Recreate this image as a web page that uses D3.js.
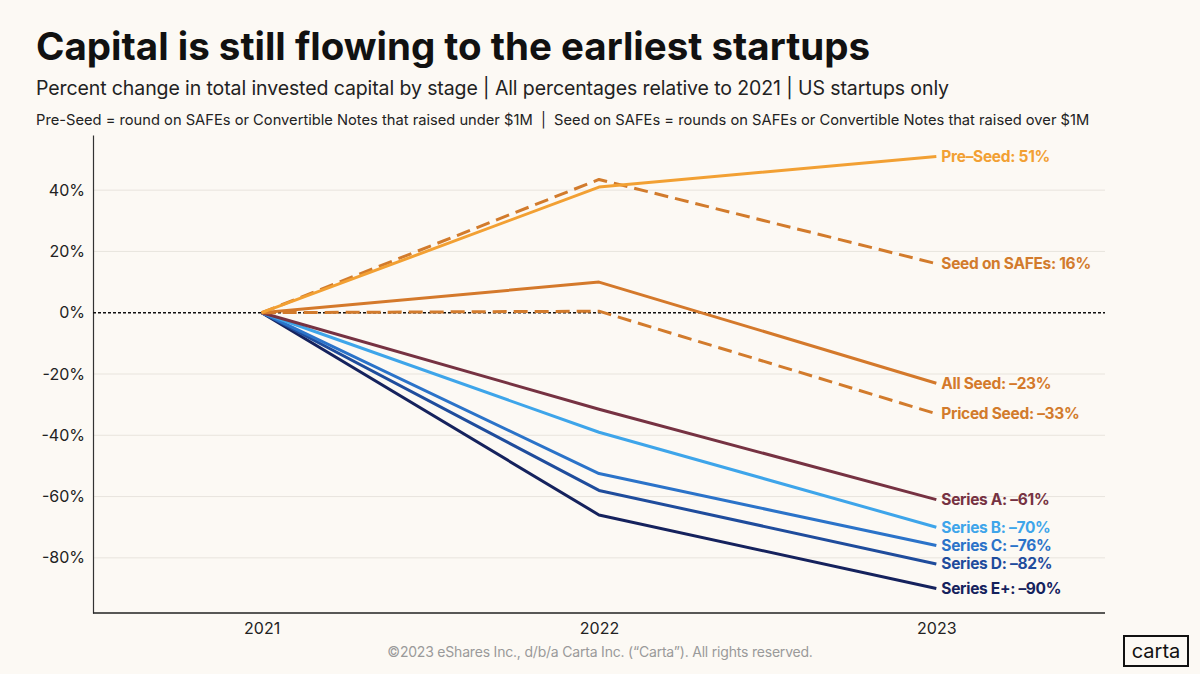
<!DOCTYPE html>
<html>
<head>
<meta charset="utf-8">
<script src="https://cdn.jsdelivr.net/npm/d3@7"></script>
<style>
  body { margin: 0; background: #fcf9f4; }
  svg { display: block; font-family: "Inter", "Lato", sans-serif; }
</style>
</head>
<body>
<svg id="chart" width="1200" height="674"></svg>
<script>
// data
const years = ["2021", "2022", "2023"]
const stages = ["Pre-Seed", "Seed on SAFEs", "All Seed", "Priced Seed", "Series A", "Series B", "Series C", "Series D", "Series E+"]
const values2022 = [41, 43.5, 10, 0.5, -31.5, -39, -52.5, -58, -66]
const values2023 = [51, 16, -23, -33, -61, -70, -76, -82, -90]
const dashed = [false, true, false, true, false, false, false, false, false]
const colors = ["#f2a033", "#d27b2c", "#d4792b", "#d27b2c", "#763242", "#3ea5ea", "#2b73c9", "#1f4c9c", "#15225d"]
const yTicks = [40, 20, 0, -20, -40, -60, -80]

const svg = d3.select("#chart")

const x = d3.scalePoint().domain(years).range([93, 1105]).padding(0.5)
const y = d3.scaleLinear().domain([-98, 58]).range([613, 135])

// titles
svg.append("text")
  .attr("x", 36).attr("y", 60)
  .attr("font-size", 38.5).attr("font-weight", 700).attr("fill", "#111")
  .text("Capital is still flowing to the earliest startups")

svg.append("text")
  .attr("x", 36).attr("y", 95)
  .attr("font-size", 19.5).attr("fill", "#222")
  .attr("letter-spacing", -0.1)
  .text("Percent change in total invested capital by stage | All percentages relative to 2021 | US startups only")

svg.append("text")
  .attr("x", 36).attr("y", 125)
  .attr("font-size", 14.7).attr("fill", "#222")
  .text("Pre-Seed = round on SAFEs or Convertible Notes that raised under $1M\u00a0\u00a0|\u00a0\u00a0Seed on SAFEs = rounds on SAFEs or Convertible Notes that raised over $1M")

// grid
svg.append("g")
  .selectAll("line")
  .data(yTicks.filter(d => d !== 0))
  .enter()
  .append("line")
  .attr("x1", 93).attr("x2", 1105)
  .attr("y1", d => y(d)).attr("y2", d => y(d))
  .attr("stroke", "#e8e4dd").attr("stroke-width", 1)

// y axis
let yAxis = svg.append("g")
  .attr("transform", "translate(93,0)")
  .call(d3.axisLeft(y).tickValues(yTicks).tickSize(0).tickPadding(8).tickFormat(d => d + "%"))
yAxis.select(".domain").attr("stroke", "#333").attr("stroke-width", 1.2)
yAxis.selectAll("text").attr("font-size", 16).attr("fill", "#222").attr("font-family", "Inter, sans-serif")

// x axis
let xAxis = svg.append("g")
  .attr("transform", "translate(0,613)")
  .call(d3.axisBottom(x).tickSize(0).tickPadding(10))
xAxis.select(".domain").attr("d", "M93,0H1105").attr("stroke", "#222").attr("stroke-width", 1.5)
xAxis.selectAll("text").attr("font-size", 16).attr("fill", "#222").attr("font-family", "Inter, sans-serif")

// zero line
svg.append("line")
  .attr("x1", 93).attr("x2", 1105)
  .attr("y1", y(0)).attr("y2", y(0))
  .attr("stroke", "#111").attr("stroke-width", 1.5).attr("stroke-dasharray", "3,2")

// series
const series = stages.map((name, i) => ({
  name: name,
  color: colors[i],
  dashed: dashed[i],
  points: [0, values2022[i], values2023[i]].map((v, j) => ({ year: years[j], value: v }))
}))

const line = d3.line().x(d => x(d.year)).y(d => y(d.value))

svg.append("g")
  .selectAll("path")
  .data(series.slice().reverse())
  .enter()
  .append("path")
  .attr("d", d => line(d.points))
  .attr("fill", "none")
  .attr("stroke", d => d.color)
  .attr("stroke-width", 3)
  .attr("stroke-linejoin", "round")
  .attr("stroke-dasharray", d => d.dashed ? "14,7" : null)

svg.append("g")
  .selectAll("text")
  .data(series)
  .enter()
  .append("text")
  .attr("x", x("2023") + 5)
  .attr("y", d => y(d.points[2].value))
  .attr("dy", "0.35em")
  .attr("font-size", 15.5).attr("font-weight", 700)
  .attr("letter-spacing", -0.3)
  .attr("fill", d => d.color)
  .text(d => `${d.name}: ${d.points[2].value}%`.replace("-", "–"))

// footer
svg.append("text")
  .attr("x", 600).attr("y", 657)
  .attr("text-anchor", "middle")
  .attr("font-size", 14).attr("fill", "#9a9a9a")
  .attr("letter-spacing", -0.2)
  .text("©2023 eShares Inc., d/b/a Carta Inc. (“Carta”). All rights reserved.")

svg.append("rect")
  .attr("x", 1124).attr("y", 636).attr("width", 64).attr("height", 30)
  .attr("fill", "none").attr("stroke", "#111").attr("stroke-width", 2)
svg.append("text")
  .attr("x", 1156).attr("y", 658)
  .attr("text-anchor", "middle")
  .attr("font-size", 20).attr("fill", "#111")
  .text("carta")
</script>
</body>
</html>
